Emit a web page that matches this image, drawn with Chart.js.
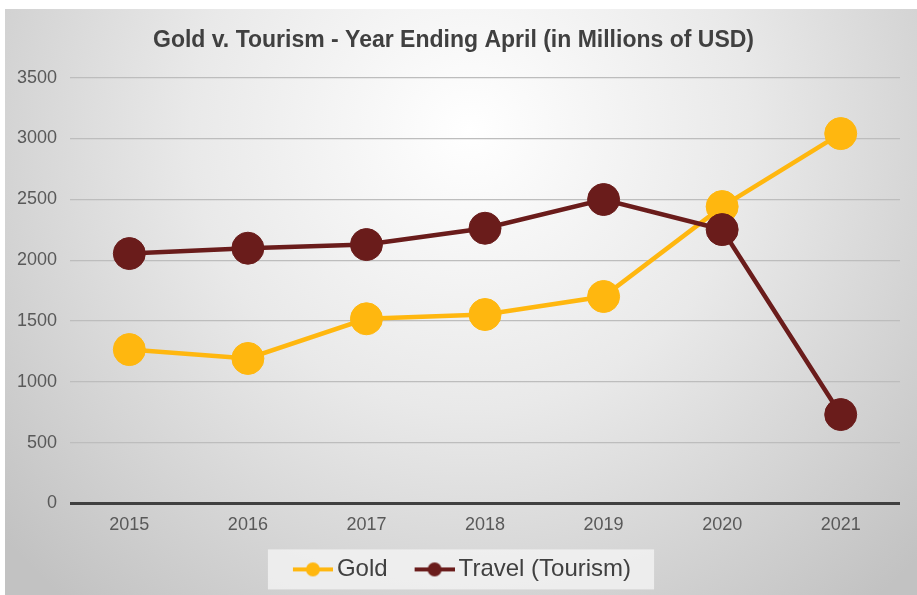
<!DOCTYPE html>
<html>
<head>
<meta charset="utf-8">
<title>Gold v. Tourism</title>
<script src="https://cdn.jsdelivr.net/npm/chart.js@4.4.1/dist/chart.umd.min.js"></script>
<style>
  html, body { margin: 0; padding: 0; background: #ffffff; }
  #wrap { width: 917px; height: 595px; position: relative; }
</style>
</head>
<body>
<div id="wrap"><canvas id="grafica"></canvas></div>
<script>
// Ejes y datos
const anios = ["2015", "2016", "2017", "2018", "2019", "2020", "2021"];
const datosOro = [1265, 1192, 1518, 1553, 1701, 2440, 3040];
const datosTurismo = [2054, 2098, 2128, 2262, 2498, 2251, 731];
const ticksY = [0, 500, 1000, 1500, 2000, 2500, 3000, 3500];

const colorOro = "#ffb70f";
const colorTurismo = "#6a1c1b";
const colorTexto = "#404040";

Chart.defaults.font.family = "'Liberation Sans', Arial, sans-serif";

// icono de leyenda: linea con circulo (parte izquierda en blanco)
const iconoLeyenda = (color) => {
  const c = document.createElement("canvas");
  c.width = 65;
  c.height = 18;
  const g = c.getContext("2d");
  g.strokeStyle = color;
  g.lineWidth = 4;
  g.beginPath();
  g.moveTo(25, 9);
  g.lineTo(65, 9);
  g.stroke();
  g.fillStyle = color;
  g.beginPath();
  g.arc(45, 9, 7, 0, Math.PI * 2);
  g.fill();
  return c;
};

// fondo con degradado radial y caja clara de la leyenda
const fondo = {
  id: "fondo",
  beforeDraw(chart) {
    const { ctx, width, height } = chart;
    ctx.save();
    ctx.fillStyle = "#ffffff";
    ctx.fillRect(0, 0, width, height);
    const grad = ctx.createRadialGradient(470, 130, 0, 470, 130, 620);
    grad.addColorStop(0, "#ffffff");
    grad.addColorStop(0.45, "#e9e9e9");
    grad.addColorStop(1, "#c2c2c2");
    ctx.fillStyle = grad;
    ctx.fillRect(5, 9, width - 5, height - 9);

    const cajas = chart.legend.legendHitBoxes;
    if (cajas && cajas.length) {
      const primera = cajas[0];
      const ultima = cajas[cajas.length - 1];
      const cy = primera.top + primera.height / 2;
      const x1 = primera.left + 17 - 25;
      const x2 = ultima.left + ultima.width + 23;
      ctx.fillStyle = "rgba(245,245,245,0.75)";
      ctx.fillRect(x1, cy - 20, x2 - x1, 40);
    }
    ctx.restore();
  },
};

const ctx = document.getElementById("grafica").getContext("2d");
new Chart(ctx, {
  type: "line",
  data: {
    labels: anios,
    datasets: [
      {
        label: "Gold",
        data: datosOro,
        borderColor: colorOro,
        backgroundColor: colorOro,
        pointBackgroundColor: colorOro,
        pointBorderColor: colorOro,
        borderWidth: 4.5,
        pointRadius: 16,
        pointHoverRadius: 16,
        pointBorderWidth: 1,
        pointStyle: "circle",
        order: 2,
      },
      {
        label: "Travel (Tourism)",
        data: datosTurismo,
        borderColor: colorTurismo,
        backgroundColor: colorTurismo,
        pointBackgroundColor: colorTurismo,
        pointBorderColor: colorTurismo,
        borderWidth: 4.5,
        pointRadius: 16,
        pointHoverRadius: 16,
        pointBorderWidth: 1,
        pointStyle: "circle",
        order: 1,
      },
    ],
  },
  options: {
    responsive: true,
    maintainAspectRatio: false,
    animation: false,
    layout: { padding: { left: 4, right: 14, top: 9, bottom: 3.6 } },
    plugins: {
      title: {
        display: true,
        text: "Gold v. Tourism - Year Ending April (in Millions of USD)",
        color: colorTexto,
        font: { size: 23, weight: "bold" },
        padding: { top: 17.5, bottom: 23.5 },
      },
      legend: {
        position: "bottom",
        labels: {
          color: colorTexto,
          font: { size: 24 },
          usePointStyle: true,
          pointStyleWidth: 49,
          boxHeight: 18,
          padding: 10,
          sort: (a, b) => a.datasetIndex - b.datasetIndex,
          generateLabels: (chart) =>
            chart.data.datasets.map((ds, i) => ({
              text: ds.label,
              datasetIndex: i,
              fontColor: colorTexto,
              pointStyle: iconoLeyenda(ds.borderColor),
              lineWidth: 0,
              hidden: false,
            })),
        },
      },
      tooltip: { enabled: false },
    },
    scales: {
      x: {
        offset: true,
        grid: { display: false, drawTicks: false },
        border: { display: false },
        ticks: {
          color: "#595959",
          font: { size: 18, lineHeight: 1.95 },
          padding: 4.4,
        },
      },
      y: {
        min: 0,
        max: 3500,
        afterBuildTicks: (eje) => {
          eje.ticks = ticksY.map((v) => ({ value: v }));
        },
        grid: {
          drawTicks: false,
          color: (c) => (c.tick && c.tick.value === 0 ? "#404040" : "#bdbdbd"),
          lineWidth: (c) => (c.tick && c.tick.value === 0 ? 3 : 1.2),
        },
        border: { display: false },
        ticks: {
          color: "#595959",
          font: { size: 18 },
          padding: 13,
          callback: (v) => String(v),
        },
      },
    },
  },
  plugins: [fondo],
});
</script>
</body>
</html>
